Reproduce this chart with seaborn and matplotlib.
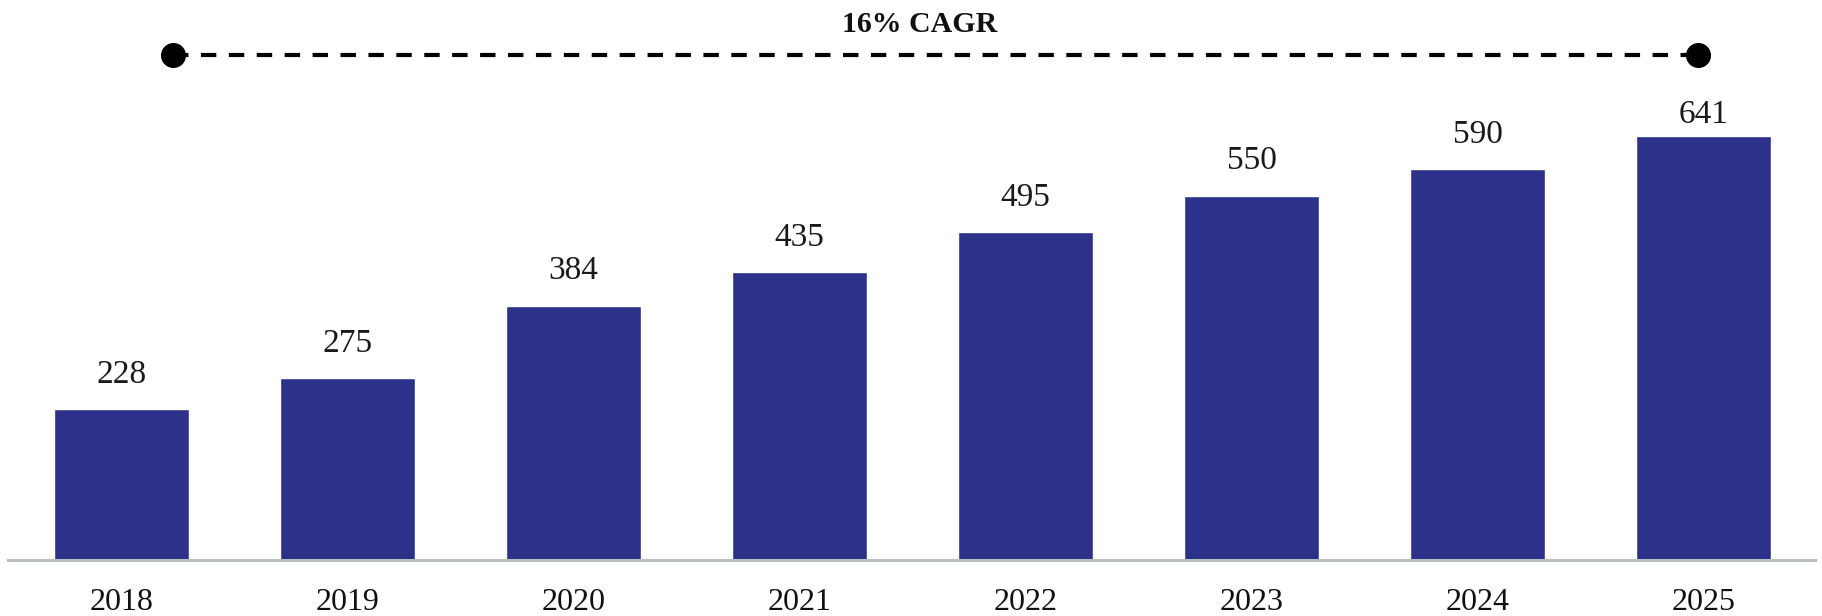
import pandas as pd
import seaborn as sns
import matplotlib.pyplot as plt

years = ['2018', '2019', '2020', '2021', '2022', '2023', '2024', '2025']
values = [228, 275, 384, 435, 495, 550, 590, 641]
cagr_label = '16% CAGR'

df = pd.DataFrame({'Year': years, 'Value': values})

sns.set_style('white')
plt.rcParams['font.family'] = ['Liberation Serif', 'DejaVu Serif']

fig = plt.figure(figsize=(18.22, 6.16), dpi=100)
ax = fig.add_axes([8 / 1822, 56 / 616, 1807 / 1822, 560 / 616])

sns.barplot(data=df, x='Year', y='Value', color='#2c318a', saturation=1, width=0.6, ax=ax)

ax.set_xlim(-0.502, 7.493)
ax.set_ylim(0, 846)
ax.set_xlabel('')
ax.set_ylabel('')
ax.set_yticks([])
ax.tick_params(axis='x', length=0, pad=20, labelsize=23, labelcolor='#111111')

for s in ['top', 'left', 'right']:
    ax.spines[s].set_visible(False)
ax.spines['bottom'].set_color('#b8c0c0')
ax.spines['bottom'].set_linewidth(2.2)

# value labels above bars (last one sits closer, under the CAGR line)
for i, v in enumerate(values):
    pad = 4 if i == len(values) - 1 else 14
    ax.annotate(str(v), (i, v), xytext=(0, pad), textcoords='offset points',
                ha='center', va='bottom', fontsize=24, color='#1a1a1a')

# CAGR dashed line with end dots
ax.plot([0.0913, 0.9353], [0.902, 0.902], transform=ax.transAxes, color='black',
        linestyle=(0, (3.7, 3)), linewidth=3, clip_on=False)
ax.plot([0.0913, 0.9353], [0.902, 0.902], transform=ax.transAxes, linestyle='none',
        marker='o', markersize=17, color='black', clip_on=False)
ax.text(0.5047, 0.956, cagr_label, transform=ax.transAxes, ha='center', va='center',
        fontsize=21.5, fontweight='bold', color='#111111')

fig.savefig('out.png', dpi=100)
